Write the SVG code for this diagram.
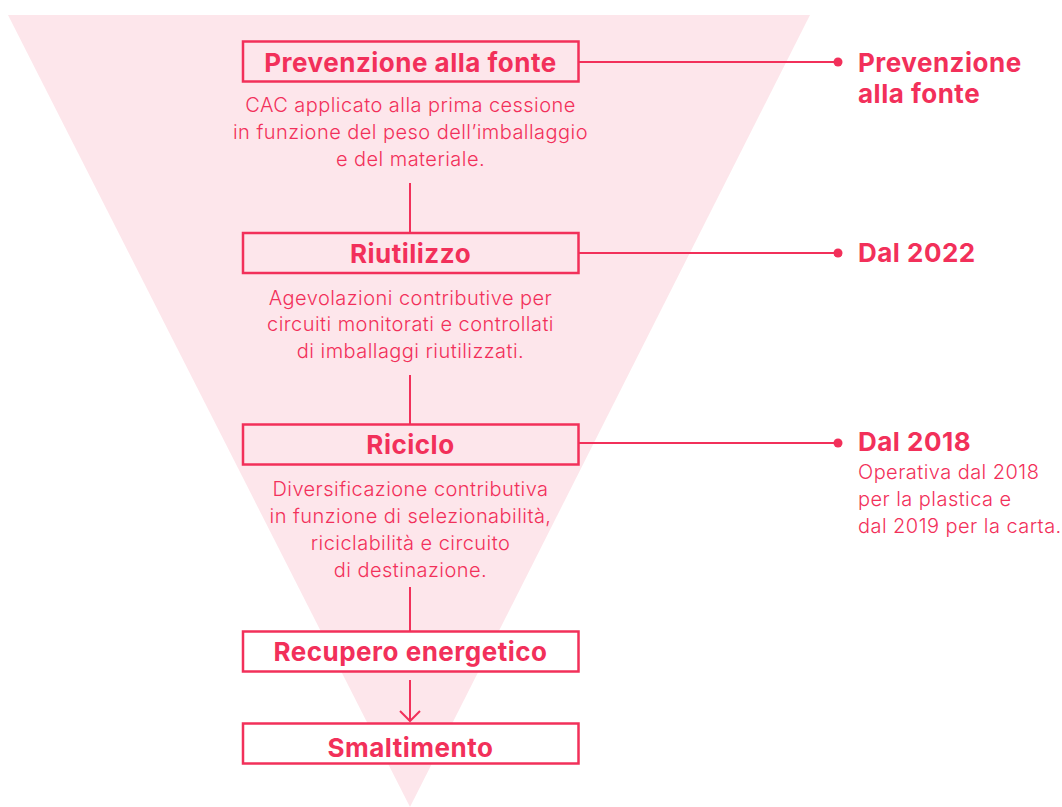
<svg xmlns="http://www.w3.org/2000/svg" width="1062" height="807" viewBox="0 0 1062 807">
<style>
.box{fill:#ffffff;stroke:#F2305A;stroke-width:2.5}
.boxp{fill:none;stroke:#F2305A;stroke-width:2.5}
.t{font-family:Inter,"Liberation Sans",sans-serif;font-weight:700;font-size:26px;letter-spacing:0.5px;fill:#F2305A}
.d{font-family:Inter,"Liberation Sans",sans-serif;font-weight:300;font-size:20px;letter-spacing:0.45px;fill:#F2305A}
.c{stroke:#F2305A;stroke-width:2;fill:none}
.dot{fill:#F2305A}
</style>
<polygon points="8,15 810,15 410,807" fill="#FDE6EB"/>
<g id="connectors">
<line class="c" x1="410" y1="183" x2="410" y2="233"/>
<line class="c" x1="410" y1="375" x2="410" y2="425"/>
<line class="c" x1="410" y1="587" x2="410" y2="631"/>
<line class="c" x1="410" y1="680" x2="410" y2="721"/>
<polyline class="c" points="400,711 410,721 420,711"/>
<line class="c" x1="579" y1="62" x2="838" y2="62"/>
<circle class="dot" cx="838" cy="62" r="4.5"/>
<line class="c" x1="579" y1="253" x2="838" y2="253"/>
<circle class="dot" cx="838" cy="253" r="4.5"/>
<line class="c" x1="579" y1="443" x2="838" y2="443"/>
<circle class="dot" cx="838" cy="443" r="4.5"/>
</g>
<g id="n-prevenzione">
<rect class="boxp" x="243" y="41.5" width="335.5" height="40"/>
<text class="t" x="410.5" y="72" text-anchor="middle">Prevenzione alla fonte</text>
<text class="d" x="410.5" y="112" text-anchor="middle">CAC applicato alla prima cessione</text>
<text class="d" x="410.5" y="139" text-anchor="middle">in funzione del peso dell’imballaggio</text>
<text class="d" x="410.5" y="166" text-anchor="middle">e del materiale.</text>
</g>
<g id="n-riutilizzo">
<rect class="boxp" x="243" y="233" width="335.5" height="40"/>
<text class="t" x="410.5" y="263" text-anchor="middle">Riutilizzo</text>
<text class="d" x="410.5" y="305" text-anchor="middle">Agevolazioni contributive per</text>
<text class="d" x="410.5" y="331" text-anchor="middle">circuiti monitorati e controllati</text>
<text class="d" x="410.5" y="358" text-anchor="middle">di imballaggi riutilizzati.</text>
</g>
<g id="n-riciclo">
<rect class="boxp" x="243" y="424.5" width="335.5" height="40"/>
<text class="t" x="410.5" y="454" text-anchor="middle">Riciclo</text>
<text class="d" x="410.5" y="496" text-anchor="middle">Diversificazione contributiva</text>
<text class="d" x="410.5" y="523" text-anchor="middle">in funzione di selezionabilità,</text>
<text class="d" x="410.5" y="550" text-anchor="middle">riciclabilità e circuito</text>
<text class="d" x="410.5" y="577" text-anchor="middle">di destinazione.</text>
</g>
<g id="n-recupero">
<rect class="box" x="243" y="631.5" width="335.5" height="40"/>
<text class="t" x="410.5" y="661" text-anchor="middle">Recupero energetico</text>
</g>
<g id="n-smaltimento">
<rect class="box" x="243" y="723.5" width="335.5" height="40"/>
<text class="t" x="410.5" y="757" text-anchor="middle">Smaltimento</text>
</g>
<g id="r-prevenzione">
<text class="t" x="858" y="72">Prevenzione</text>
<text class="t" x="858" y="103">alla fonte</text>
</g>
<g id="r-2022">
<text class="t" x="858" y="262">Dal 2022</text>
</g>
<g id="r-2018">
<text class="t" x="858" y="451">Dal 2018</text>
<text class="d" x="858" y="479">Operativa dal 2018</text>
<text class="d" x="858" y="506">per la plastica e</text>
<text class="d" x="858" y="533">dal 2019 per la carta.</text>
</g>
</svg>
